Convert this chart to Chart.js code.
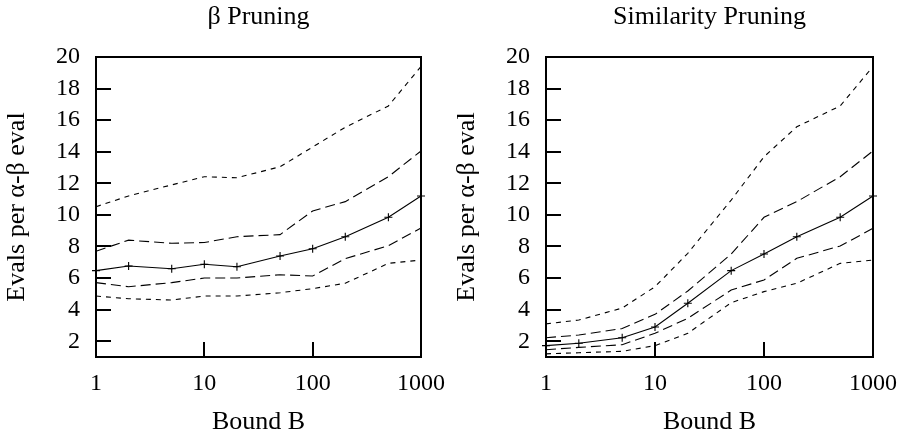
<!DOCTYPE html>
<html>
<head>
<meta charset="utf-8">
<script src="https://cdn.jsdelivr.net/npm/chart.js@4.4.1/dist/chart.umd.min.js"></script>
<style>
  html, body { margin: 0; padding: 0; background: #fff; }
  .wrap { position: absolute; top: 0; width: 450px; height: 439px; }
  #left { left: 0; }
  #right { left: 450px; }
</style>
</head>
<body>
<div class="wrap" id="left"><canvas id="betaChart" width="450" height="439"></canvas></div>
<div class="wrap" id="right"><canvas id="simChart" width="450" height="439"></canvas></div>
<script>
const bounds = [1, 2, 5, 10, 20, 50, 100, 200, 500, 1000];
const xTicks = [1, 10, 100, 1000];
const yTicks = [2, 4, 6, 8, 10, 12, 14, 16, 18, 20];

// beta pruning
const betaP90 = [10.52, 11.2, 11.9, 12.42, 12.35, 13.05, 14.3, 15.55, 16.9, 19.4];
const betaP75 = [7.7, 8.4, 8.2, 8.25, 8.62, 8.75, 10.25, 10.84, 12.42, 14.05];
const betaMedian = [6.47, 6.76, 6.59, 6.87, 6.72, 7.4, 7.86, 8.62, 9.85, 11.2];
const betaP25 = [5.71, 5.45, 5.71, 6.0, 6.0, 6.21, 6.13, 7.23, 8.05, 9.17];
const betaP10 = [4.86, 4.69, 4.61, 4.86, 4.86, 5.07, 5.33, 5.67, 6.93, 7.14];

// similarity pruning
const simP90 = [3.1, 3.34, 4.1, 5.45, 7.57, 10.94, 13.68, 15.58, 16.9, 19.4];
const simP75 = [2.22, 2.39, 2.8, 3.7, 5.18, 7.52, 9.85, 10.84, 12.42, 14.05];
const simMedian = [1.72, 1.87, 2.22, 2.9, 4.4, 6.47, 7.52, 8.62, 9.85, 11.2];
const simP25 = [1.46, 1.61, 1.78, 2.5, 3.45, 5.24, 5.88, 7.25, 8.03, 9.15];
const simP10 = [1.2, 1.27, 1.36, 1.72, 2.5, 4.44, 5.14, 5.67, 6.93, 7.14];

const serif = "'Liberation Serif', 'DejaVu Serif', serif";

// gnuplot style box + inward ticks
const frame = {
    id: 'frame',
    afterDraw(chart) {
        const { ctx, chartArea: a } = chart;
        const x = chart.scales.x, y = chart.scales.y;
        ctx.save();
        ctx.fillStyle = '#000';
        yTicks.forEach(v => {
            const py = Math.round(y.getPixelForValue(v));
            ctx.fillRect(a.left, py - 1, 15, 2);
        });
        xTicks.forEach(v => {
            const px = Math.round(x.getPixelForValue(v));
            ctx.fillRect(px - 1, a.bottom - 15, 2, 15);
        });
        ctx.lineWidth = 2;
        ctx.strokeStyle = '#000';
        ctx.strokeRect(a.left, a.top, a.right - a.left, a.bottom - a.top);
        ctx.restore();
    }
};

function line(values, dash, marker) {
    return {
        data: bounds.map((b, i) => ({ x: b, y: values[i] })),
        borderColor: '#000',
        backgroundColor: '#000',
        borderWidth: 1.1,
        borderDash: dash,
        pointStyle: 'cross',
        pointRadius: marker ? 4 : 0,
        pointBorderWidth: 1.1,
        pointBorderColor: '#000',
        tension: 0,
        fill: false,
        clip: false
    };
}

function makeChart(id, title, rightPad, p10, p25, median, p75, p90) {
    new Chart(document.getElementById(id), {
        type: 'line',
        data: {
            datasets: [
                line(p90, [5, 5], false),
                line(p75, [10, 5], false),
                line(median, [], true),
                line(p25, [10, 5], false),
                line(p10, [5, 5], false)
            ]
        },
        plugins: [frame],
        options: {
            responsive: false,
            animation: false,
            devicePixelRatio: 1,
            layout: { padding: { left: 0, right: rightPad, top: 0, bottom: 0 } },
            plugins: {
                legend: { display: false },
                tooltip: { enabled: false },
                title: {
                    display: true,
                    text: title,
                    fullSize: false,
                    color: '#000',
                    font: { family: serif, size: 26, weight: 'normal', lineHeight: 1.1 },
                    padding: { top: 3, bottom: 25.4 }
                }
            },
            scales: {
                x: {
                    type: 'logarithmic',
                    min: 1,
                    max: 1000,
                    afterBuildTicks: s => { s.ticks = xTicks.map(v => ({ value: v })); },
                    afterFit: s => {
                        s.height = 82;
                        s.paddingLeft = 0;
                        s.paddingRight = 0;
                    },
                    grid: { display: false, drawTicks: false },
                    border: { display: false },
                    ticks: {
                        color: '#000',
                        padding: 12,
                        maxRotation: 0,
                        autoSkip: false,
                        font: { family: serif, size: 24 },
                        callback: v => String(v)
                    },
                    title: {
                        display: true,
                        text: 'Bound B',
                        color: '#000',
                        font: { family: serif, size: 26 },
                        padding: { top: 0, bottom: 1 }
                    }
                },
                y: {
                    min: 1,
                    max: 20,
                    afterBuildTicks: s => { s.ticks = yTicks.map(v => ({ value: v })); },
                    afterFit: s => {
                        s.width = 96;
                        s.paddingTop = 0;
                        s.paddingBottom = 0;
                    },
                    grid: { display: false, drawTicks: false },
                    border: { display: false },
                    ticks: {
                        color: '#000',
                        padding: 16,
                        font: { family: serif, size: 24 }
                    },
                    title: {
                        display: true,
                        text: 'Evals per α-β eval',
                        color: '#000',
                        font: { family: serif, size: 26 },
                        padding: { top: 2, bottom: 0 }
                    }
                }
            }
        }
    });
}

makeChart('betaChart', 'β Pruning', 29, betaP10, betaP25, betaMedian, betaP75, betaP90);
makeChart('simChart', 'Similarity Pruning', 27, simP10, simP25, simMedian, simP75, simP90);
</script>
</body>
</html>
